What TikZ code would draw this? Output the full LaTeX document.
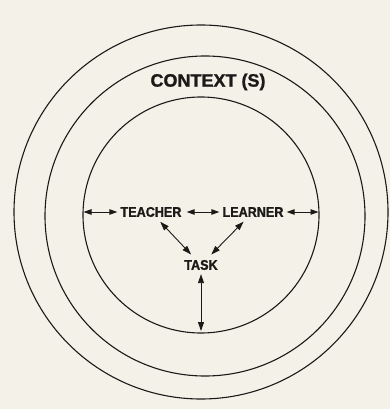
\documentclass[tikz,border=0pt]{standalone}
\usepackage{fontspec}
\newfontfamily\labfont[FakeStretch=0.9,BoldFeatures={FakeBold=1.2}]{Liberation Sans}
\newfontfamily\bigfont[BoldFeatures={FakeBold=1.2}]{Liberation Sans}
\usetikzlibrary{arrows.meta}
\definecolor{paper}{RGB}{244,241,233}
\definecolor{ink}{RGB}{28,26,24}
\begin{document}
\begin{tikzpicture}[x=1pt,y=-1pt,
  ring/.style={draw=ink,line width=1.1pt},
  lbl/.style={text=ink,font=\labfont\bfseries\fontsize{14}{14}\selectfont,inner sep=1pt},
  big/.style={text=ink,font=\bigfont\bfseries\fontsize{18}{18}\selectfont,inner sep=1pt},
  arr/.style={draw=ink,line width=0.9pt,{Triangle[length=9pt,width=6pt]}-{Triangle[length=9pt,width=6pt]}},
  sarr/.style={draw=ink,line width=0.9pt,{Triangle[length=8pt,width=5.5pt]}-{Triangle[length=8pt,width=5.5pt]}}]
\fill[paper] (0,0) rectangle (390,409);
\useasboundingbox (0,0) rectangle (390,409);
\draw[ring] (201,212) circle[radius=187pt];
\draw[ring] (205,216) circle[radius=160pt];
\draw[ring] (201,215) circle[radius=118pt];
\node[big] (ctx) at (208,82) {CONTEXT (S)};
\node[lbl] (teacher) at (151,212) {TEACHER};
\node[lbl] (learner) at (253,212) {LEARNER};
\node[lbl] (task) at (201,265) {TASK};
\coordinate (lw) at (83.5,212);
\coordinate (rw) at (318.5,212);
\coordinate (bw) at (201,331);
\draw[sarr,shorten >=2pt] (lw) -- (teacher.west);
\draw[sarr,shorten <=4pt,shorten >=2pt] (teacher.east) -- (learner.west);
\draw[sarr,shorten <=2pt] (learner.east) -- (rw);
\draw[arr,shorten <=5pt,shorten >=6pt] (teacher) -- (task);
\draw[arr,shorten <=5pt,shorten >=6pt] (learner) -- (task);
\draw[arr,shorten <=3pt] (task.south) -- (bw);
\end{tikzpicture}
\end{document}
